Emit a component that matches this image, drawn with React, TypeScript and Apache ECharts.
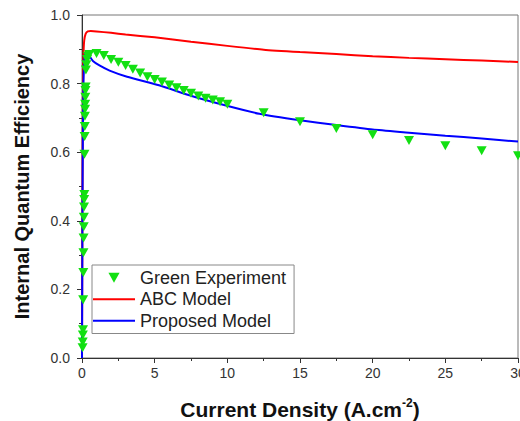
import React, { useEffect, useRef } from "react";
import * as echarts from "echarts";

const xTicks = [0, 5, 10, 15, 20, 25, 30];
const yTicks = [0, 0.2, 0.4, 0.6, 0.8, 1.0];

const expX = [
  0.04, 0.05, 0.06, 0.07, 0.08, 0.09, 0.1, 0.11, 0.12, 0.13, 0.14, 0.15, 0.16,
  0.17, 0.18, 0.19, 0.2, 0.21, 0.22, 0.23, 0.24, 0.25, 0.27, 0.3, 0.35, 0.4,
  0.5, 1.0, 1.5, 2.0, 2.5, 3.0, 3.5, 4.0, 4.5, 5.0, 5.5, 6.0, 6.5, 7.0, 7.5,
  8.0, 8.5, 9.0, 9.5, 10.0, 12.5, 15, 17.5, 20, 22.5, 25, 27.5, 30,
];
const expY = [
  0.03, 0.047, 0.067, 0.082, 0.17, 0.249, 0.307, 0.35, 0.383, 0.41, 0.44, 0.462,
  0.477, 0.594, 0.646, 0.675, 0.705, 0.725, 0.74, 0.76, 0.78, 0.79, 0.84, 0.855,
  0.87, 0.88, 0.885, 0.888, 0.882, 0.87, 0.862, 0.853, 0.842, 0.831, 0.82,
  0.812, 0.805, 0.796, 0.788, 0.78, 0.772, 0.764, 0.757, 0.752, 0.747, 0.74,
  0.715, 0.689, 0.669, 0.651, 0.634, 0.619, 0.604, 0.59,
];

const abcX = [0, 0.03, 0.06, 0.1, 0.15, 0.25, 0.4, 0.6, 1, 2, 3, 5, 7.5, 10, 12.5, 15, 17.5, 20, 22.5, 25, 27.5, 30];
const abcY = [0, 0.45, 0.75, 0.88, 0.925, 0.945, 0.952, 0.953, 0.952, 0.948, 0.943, 0.935, 0.922, 0.91, 0.899, 0.892, 0.886, 0.88, 0.875, 0.871, 0.867, 0.863];

const propX = [0, 0.03, 0.06, 0.1, 0.15, 0.2, 0.3, 0.4, 0.55, 0.75, 1.2, 1.9, 3.1, 5.3, 7.6, 9.9, 12.2, 15, 17.5, 20, 22.5, 25, 27.5, 30];
const propY = [0, 0.4, 0.65, 0.8, 0.86, 0.885, 0.894, 0.89, 0.878, 0.866, 0.853, 0.838, 0.82, 0.795, 0.763, 0.736, 0.712, 0.693, 0.679, 0.666, 0.657, 0.648, 0.64, 0.631];

const zip = (a: number[], b: number[]) => a.map((v, i) => [v, b[i]]);

const FONT = "Liberation Sans, Arial, sans-serif";
const LINE_ICON = "path://M0,0 L42,0 L42,2 L0,2 Z";
const TRI_ICON = "path://M0,0 L10,0 L5,9 Z";

export default function App() {
  const ref = useRef<HTMLDivElement>(null);
  useEffect(() => {
    if (!ref.current) return;
    const chart = echarts.init(ref.current, undefined, { renderer: "svg" });
    chart.setOption({
      animation: false,
      backgroundColor: "#ffffff",
      grid: {
        left: 82,
        right: 2,
        top: 15,
        bottom: 63,
        show: true,
        borderColor: "#777777",
        borderWidth: 1,
        backgroundColor: "transparent",
        containLabel: false,
        outerBoundsMode: "none",
      },
      legend: {
        orient: "vertical",
        left: 92,
        top: 265,
        padding: [2, 8, 2, 1],
        itemGap: 0,
        itemWidth: 42,
        itemHeight: 10,
        symbolKeepAspect: true,
        symbolRotate: 0,
        borderColor: "#888888",
        borderWidth: 1,
        backgroundColor: "#ffffff",
        textStyle: { fontFamily: FONT, fontSize: 18, color: "#222", lineHeight: 21.5 },
        data: [
          { name: "Green Experiment", icon: TRI_ICON },
          { name: "ABC Model", icon: LINE_ICON },
          { name: "Proposed Model", icon: LINE_ICON },
        ],
      },
      xAxis: {
        type: "value",
        min: 0,
        max: 30,
        interval: 5,
        name: "Current Density (A.cm{sup|-2})",
        nameLocation: "middle",
        nameGap: 39,
        nameTextStyle: {
          fontFamily: FONT,
          fontSize: 21,
          fontWeight: "bold",
          color: "#111",
          rich: {
            sup: { fontFamily: FONT, fontSize: 12, fontWeight: "bold", color: "#111", padding: [0, 0, 12, 0] },
          },
        },
        axisLine: { show: true, lineStyle: { color: "#333", width: 1 } },
        axisTick: { show: true, inside: false, length: 5, lineStyle: { color: "#333" } },
        minorTick: { show: true, splitNumber: 2, length: 3, lineStyle: { color: "#333" } },
        splitLine: { show: false },
        axisLabel: {
          margin: 8,
          fontFamily: FONT,
          fontSize: 14,
          color: "#333",
          formatter: (v: number) => (xTicks.includes(v) ? String(v) : ""),
        },
      },
      yAxis: {
        type: "value",
        min: 0,
        max: 1,
        interval: 0.2,
        name: "Internal Quantum Efficiency",
        nameLocation: "middle",
        nameGap: 50,
        nameTextStyle: { fontFamily: FONT, fontSize: 20, fontWeight: "bold", color: "#111" },
        axisLine: { show: true, lineStyle: { color: "#333", width: 1 } },
        axisTick: { show: true, inside: false, length: 5, lineStyle: { color: "#333" } },
        minorTick: { show: true, splitNumber: 2, length: 3, lineStyle: { color: "#333" } },
        splitLine: { show: false },
        axisLabel: {
          margin: 12,
          fontFamily: FONT,
          fontSize: 14,
          color: "#333",
          formatter: (v: number) => (yTicks.some((t) => Math.abs(t - v) < 1e-9) ? v.toFixed(1) : ""),
        },
      },
      series: [
        {
          name: "Green Experiment",
          type: "scatter",
          symbol: "triangle",
          symbolRotate: 180,
          symbolSize: [10, 9],
          itemStyle: { color: "#12e012", opacity: 1 },
          data: zip(expX, expY),
          z: 3,
        },
        {
          name: "ABC Model",
          type: "line",
          symbol: "none",
          smooth: 0.2,
          lineStyle: { color: "#ff0000", width: 2 },
          itemStyle: { color: "#ff0000" },
          data: zip(abcX, abcY),
          z: 2,
        },
        {
          name: "Proposed Model",
          type: "line",
          symbol: "none",
          smooth: 0.2,
          lineStyle: { color: "#0000ff", width: 2 },
          itemStyle: { color: "#0000ff" },
          data: zip(propX, propY),
          z: 2,
        },
      ],
    });
    return () => chart.dispose();
  }, []);
  return (
    <div
      ref={ref}
      style={{ position: "fixed", left: 0, top: 0, width: 520, height: 421, background: "#fff" }}
    />
  );
}
